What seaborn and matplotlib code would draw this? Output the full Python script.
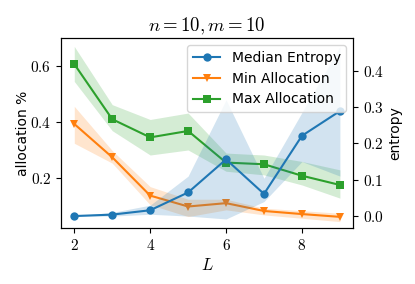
import matplotlib
matplotlib.use("Agg")
import matplotlib.pyplot as plt
from matplotlib.ticker import FuncFormatter, MultipleLocator
import seaborn as sns
import numpy as np
import pandas as pd

plt.rcParams["mathtext.fontset"] = "cm"
plt.rcParams["font.family"] = ["DejaVu Sans"]

L = [2, 3, 4, 5, 6, 7, 8, 9]
entropy_med = [0.0, 0.004, 0.016, 0.065, 0.156, 0.061, 0.221, 0.289]
entropy_lo = [0.0, 0.0, 0.005, 0.0, -0.008, 0.04, 0.15, 0.11]
entropy_hi = [0.0, 0.01, 0.03, 0.11, 0.32, 0.104, 0.285, 0.466]

min_alloc = [0.394, 0.275, 0.138, 0.099, 0.111, 0.083, 0.072, 0.062]
min_lo = [0.325, 0.254, 0.105, 0.063, 0.087, 0.069, 0.057, 0.045]
min_hi = [0.457, 0.299, 0.17, 0.125, 0.125, 0.093, 0.084, 0.075]

max_alloc = [0.608, 0.411, 0.346, 0.369, 0.256, 0.25, 0.209, 0.176]
max_lo = [0.546, 0.37, 0.283, 0.301, 0.225, 0.212, 0.176, 0.129]
max_hi = [0.671, 0.463, 0.41, 0.433, 0.29, 0.283, 0.26, 0.23]

df = pd.DataFrame({"L": L, "ent": entropy_med, "mn": min_alloc, "mx": max_alloc})

blue, orange, green = "#1f77b4", "#ff7f0e", "#2ca02c"

fig = plt.figure(figsize=(4.15, 2.84), dpi=100)
ax = fig.add_axes([0.147, 0.197, 0.704, 0.669])
ax2 = ax.twinx()

sns.lineplot(data=df, x="L", y="mn", ax=ax, color=orange, marker="v",
             markeredgewidth=0, label="Min Allocation", legend=False)
ax.fill_between(L, min_lo, min_hi, color=orange, alpha=0.2, linewidth=0)
sns.lineplot(data=df, x="L", y="mx", ax=ax, color=green, marker="s",
             markeredgewidth=0, label="Max Allocation", legend=False)
ax.fill_between(L, max_lo, max_hi, color=green, alpha=0.2, linewidth=0)

sns.lineplot(data=df, x="L", y="ent", ax=ax2, color=blue, marker="o",
             markeredgewidth=0, label="Median Entropy", legend=False)
ax2.fill_between(L, entropy_lo, entropy_hi, color=blue, alpha=0.2, linewidth=0)

ax.set_ylim(0.022, 0.701)
ax2.set_ylim(-0.033, 0.49)
ax.set_xlim(1.65, 9.35)

fmt = FuncFormatter(lambda v, p: f"${v:.1f}$")
ax.yaxis.set_major_locator(MultipleLocator(0.2))
ax2.yaxis.set_major_locator(MultipleLocator(0.1))
ax.yaxis.set_major_formatter(fmt)
ax2.yaxis.set_major_formatter(fmt)
ax.xaxis.set_major_locator(MultipleLocator(2))
ax.xaxis.set_major_formatter(FuncFormatter(lambda v, p: f"${int(v)}$"))
for a in (ax, ax2):
    a.tick_params(labelsize=11)

ax.set_xlabel("$L$", fontsize=12, labelpad=2)
ax.set_ylabel("allocation %", fontsize=10, labelpad=0)
ax2.set_ylabel("entropy", fontsize=10, labelpad=3)
ax.set_title("$n=10, m=10$", fontsize=13.5, pad=5)

h1, l1 = ax2.get_legend_handles_labels()
h2, l2 = ax.get_legend_handles_labels()
ax2.legend(h1 + h2, l1 + l2, loc="upper right", fontsize=10)

fig.savefig("out.png", dpi=100)
